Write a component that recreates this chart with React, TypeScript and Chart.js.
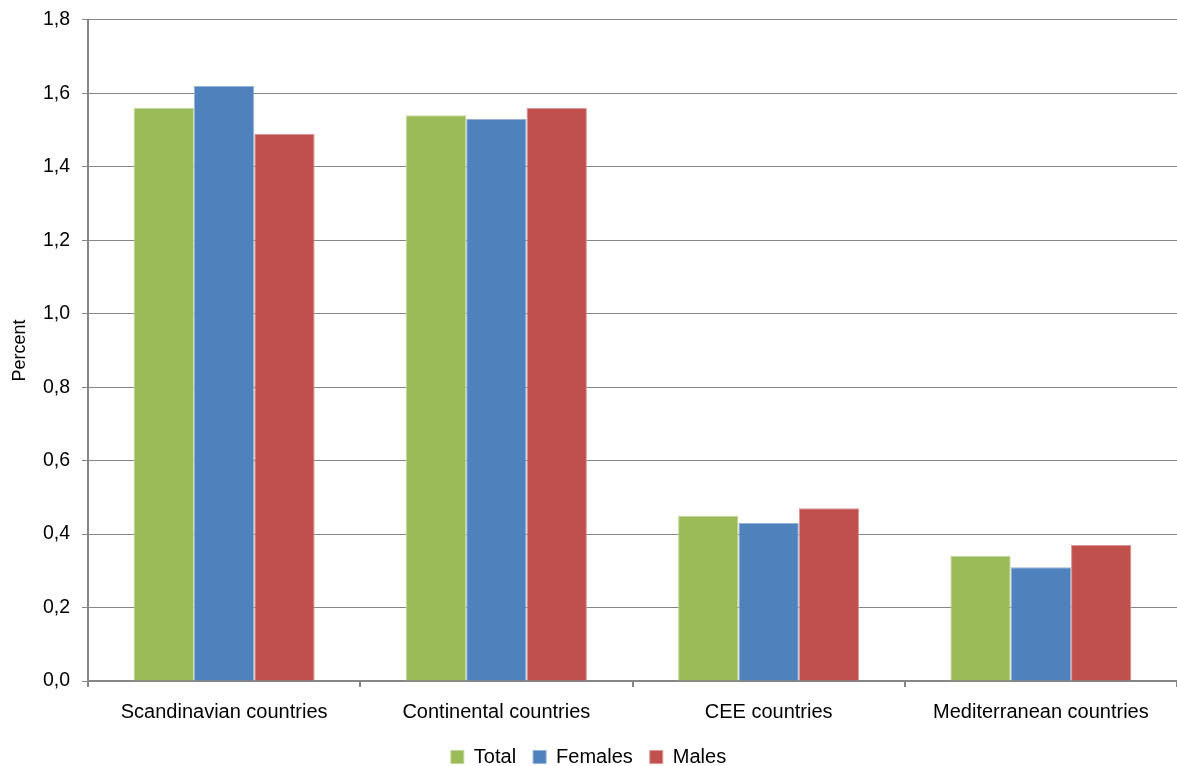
import React, { useEffect, useRef } from "react";
import { Chart, registerables } from "chart.js";

Chart.register(...registerables);

const categories = ["Scandinavian countries", "Continental countries", "CEE countries", "Mediterranean countries"];
const totalValues = [1.56, 1.54, 0.45, 0.34];
const femalesValues = [1.62, 1.53, 0.43, 0.31];
const malesValues = [1.49, 1.56, 0.47, 0.37];
const seriesNames = ["Total", "Females", "Males"];
const yTickValues = [0, 0.2, 0.4, 0.6, 0.8, 1.0, 1.2, 1.4, 1.6, 1.8];
const yAxisTitle = "Percent";

const FONT = "'Liberation Sans', Arial, sans-serif";

export default function App() {
  const ref = useRef<HTMLCanvasElement | null>(null);
  useEffect(() => {
    document.body.style.margin = "0";
    const ctx = ref.current!;
    const chart = new Chart(ctx, {
      type: "bar",
      data: {
        labels: categories,
        datasets: [
          { label: seriesNames[0], data: totalValues, backgroundColor: "#9BBB59", borderColor: "#C3D69B", borderWidth: 1 },
          { label: seriesNames[1], data: femalesValues, backgroundColor: "#4F81BD", borderColor: "#95B3D7", borderWidth: 1 },
          { label: seriesNames[2], data: malesValues, backgroundColor: "#C0504D", borderColor: "#D99694", borderWidth: 1 },
        ],
      },
      options: {
        responsive: false,
        animation: false,
        layout: { padding: { top: 8, right: 0, left: 0, bottom: -11 } },
        datasets: { bar: { categoryPercentage: 0.665, barPercentage: 1.0 } },
        plugins: {
          tooltip: { enabled: false },
          legend: {
            position: "bottom",
            labels: {
              boxWidth: 13,
              boxHeight: 13,
              color: "#000",
              font: { family: FONT, size: 20 },
              padding: 17,
            },
          },
        },
        scales: {
          x: {
            grid: { offset: true, drawOnChartArea: false, drawTicks: true, tickLength: 6, color: "#868686", lineWidth: 2 },
            border: { display: true, color: "#868686", width: 2 },
            ticks: { color: "#000", font: { family: FONT, size: 20 }, padding: 13, maxRotation: 0 },
            afterFit: (s: any) => { s.height = 49; },
          },
          y: {
            min: 0,
            max: 1.8,
            afterBuildTicks: (s: any) => { s.ticks = yTickValues.map((v) => ({ value: v })); },
            grid: { color: "#868686", lineWidth: 1, drawTicks: true, tickLength: 6 },
            border: { display: true, color: "#868686", width: 2 },
            ticks: {
              color: "#000",
              font: { family: FONT, size: 19.5, lineHeight: 0.8 },
              padding: 12,
              callback: (v: any) => Number(v).toFixed(1).replace(".", ","),
            },
            title: { display: true, text: yAxisTitle, color: "#000", font: { family: FONT, size: 18 }, padding: { top: 9, bottom: 0 } },
            afterFit: (s: any) => { s.width = 88; },
          },
        },
      },
    });
    return () => chart.destroy();
  }, []);
  return (
    <div style={{ position: "absolute", left: 0, top: 0, width: 1177, height: 766 }}>
      <canvas ref={ref} width={1177} height={766} style={{ display: "block" }} />
    </div>
  );
}
